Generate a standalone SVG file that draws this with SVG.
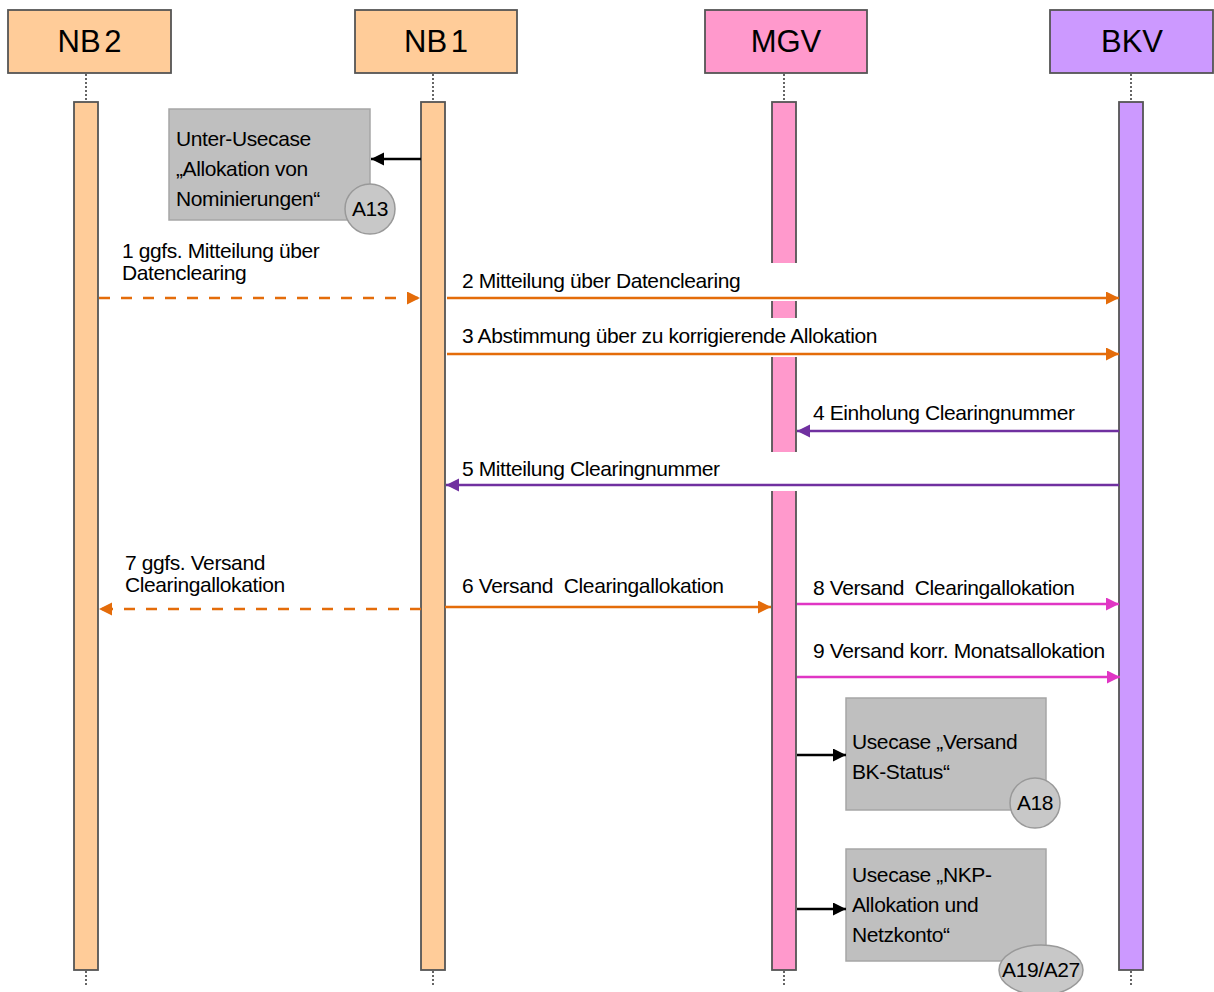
<svg xmlns="http://www.w3.org/2000/svg" width="1214" height="992" viewBox="0 0 1214 992">
<style>
text{font-family:"Liberation Sans",Arial,sans-serif;fill:#000}
.hdr{font-size:31px;text-anchor:middle}
.lbl{font-size:21px;letter-spacing:-0.4px}
.box{stroke:#555;stroke-width:1.8}
.dot{stroke:#000;stroke-width:1.2;stroke-dasharray:2,2;fill:none}
.nb{fill:#FFCC99}
.mg{fill:#FF99CC}
.bk{fill:#CC99FF}
.uc{fill:#BFBFBF;stroke:#A6A6A6;stroke-width:1.5}
.tag{fill:#C8C8C8;stroke:#999;stroke-width:1.5}
.or{stroke:#E46C0A;stroke-width:2.5;fill:none}
.pu{stroke:#7030A0;stroke-width:2.5;fill:none}
.pk{stroke:#E036C4;stroke-width:2.5;fill:none}
.bl{stroke:#000;stroke-width:2.5;fill:none}
.dash{stroke-dasharray:11,11}
</style>
<defs>
<marker id="aor" markerUnits="userSpaceOnUse" markerWidth="14" markerHeight="14" refX="13" refY="6.5" orient="auto"><path d="M0,0 L13,6.5 L0,13 z" fill="#E46C0A"/></marker>
<marker id="apu" markerUnits="userSpaceOnUse" markerWidth="14" markerHeight="14" refX="13" refY="6.5" orient="auto"><path d="M0,0 L13,6.5 L0,13 z" fill="#7030A0"/></marker>
<marker id="apk" markerUnits="userSpaceOnUse" markerWidth="14" markerHeight="14" refX="13" refY="6.5" orient="auto"><path d="M0,0 L13,6.5 L0,13 z" fill="#E036C4"/></marker>
<marker id="abl" markerUnits="userSpaceOnUse" markerWidth="14" markerHeight="14" refX="13" refY="6.5" orient="auto"><path d="M0,0 L13,6.5 L0,13 z" fill="#000"/></marker>
</defs>
<rect width="1214" height="992" fill="#fff"/>

<g id="nb2">
<rect class="box nb" x="8" y="10" width="163" height="63"/>
<text class="hdr" x="89.5" y="52" word-spacing="-5">NB 2</text>
<line class="dot" x1="86" y1="74" x2="86" y2="102"/>
<rect class="box nb" x="74" y="102" width="24" height="868"/>
<line class="dot" x1="86" y1="971" x2="86" y2="986"/>
</g>

<g id="nb1">
<rect class="box nb" x="355" y="10" width="162" height="63"/>
<text class="hdr" x="436" y="52" word-spacing="-5">NB 1</text>
<line class="dot" x1="433" y1="74" x2="433" y2="102"/>
<rect class="box nb" x="421" y="102" width="24" height="868"/>
<line class="dot" x1="433" y1="971" x2="433" y2="986"/>
</g>

<g id="mgv">
<rect class="box mg" x="705" y="10" width="162" height="63"/>
<text class="hdr" x="786" y="52">MGV</text>
<line class="dot" x1="784" y1="74" x2="784" y2="102"/>
<rect class="box mg" x="772" y="102" width="24" height="868"/>
<line class="dot" x1="784" y1="971" x2="784" y2="986"/>
<rect x="769" y="263" width="30" height="38" fill="#fff"/>
<rect x="769" y="318" width="30" height="39" fill="#fff"/>
<rect x="769" y="452" width="30" height="39" fill="#fff"/>
</g>

<g id="bkv">
<rect class="box bk" x="1050" y="10" width="163" height="63"/>
<text class="hdr" x="1132" y="52">BKV</text>
<line class="dot" x1="1131" y1="74" x2="1131" y2="102"/>
<rect class="box bk" x="1119" y="102" width="24" height="868"/>
<line class="dot" x1="1131" y1="971" x2="1131" y2="986"/>
</g>

<g id="a13">
<rect class="uc" x="169" y="109" width="201" height="111"/>
<text class="lbl" x="176" y="146">Unter-Usecase</text>
<text class="lbl" x="176" y="176">„Allokation von</text>
<text class="lbl" x="176" y="206">Nominierungen“</text>
<circle class="tag" cx="370" cy="209" r="25"/>
<text class="lbl" x="370" y="216" text-anchor="middle">A13</text>
</g>

<g id="a18">
<rect class="uc" x="846" y="698" width="200" height="112"/>
<text class="lbl" x="852" y="749">Usecase „Versand</text>
<text class="lbl" x="852" y="779">BK-Status“</text>
<circle class="tag" cx="1035" cy="803" r="25"/>
<text class="lbl" x="1035" y="810" text-anchor="middle">A18</text>
</g>

<g id="a19">
<rect class="uc" x="846" y="849" width="200" height="112"/>
<text class="lbl" x="852" y="882">Usecase „NKP-</text>
<text class="lbl" x="852" y="912">Allokation und</text>
<text class="lbl" x="852" y="942">Netzkonto“</text>
<ellipse class="tag" cx="1041" cy="970" rx="42" ry="25"/>
<text class="lbl" x="1041" y="977" text-anchor="middle">A19/A27</text>
</g>

<g id="connectors">
<line class="bl" x1="421" y1="159" x2="371" y2="159" marker-end="url(#abl)"/>
<line class="or dash" x1="99" y1="298" x2="420" y2="298" marker-end="url(#aor)"/>
<line class="or" x1="447" y1="298" x2="1119" y2="298" marker-end="url(#aor)"/>
<line class="or" x1="447" y1="354" x2="1119" y2="354" marker-end="url(#aor)"/>
<line class="pu" x1="1119" y1="431" x2="797" y2="431" marker-end="url(#apu)"/>
<line class="pu" x1="1119" y1="485" x2="446" y2="485" marker-end="url(#apu)"/>
<line class="or" x1="445" y1="607" x2="771" y2="607" marker-end="url(#aor)"/>
<line class="or dash" x1="421" y1="609" x2="99" y2="609" marker-end="url(#aor)"/>
<line class="pk" x1="797" y1="604" x2="1119" y2="604" marker-end="url(#apk)"/>
<line class="pk" x1="797" y1="677" x2="1120" y2="677" marker-end="url(#apk)"/>
<line class="bl" x1="797" y1="755" x2="846" y2="755" marker-end="url(#abl)"/>
<line class="bl" x1="797" y1="909" x2="846" y2="909" marker-end="url(#abl)"/>
<g class="lbl">
<text class="lbl" x="122" y="258">1 ggfs. Mitteilung über</text>
<text class="lbl" x="122" y="280">Datenclearing</text>
<text class="lbl" x="462" y="288">2 Mitteilung über Datenclearing</text>
<text class="lbl" x="462" y="343">3 Abstimmung über zu korrigierende Allokation</text>
<text class="lbl" x="813" y="420">4 Einholung Clearingnummer</text>
<text class="lbl" x="462" y="476">5 Mitteilung Clearingnummer</text>
<text class="lbl" x="462" y="593" xml:space="preserve">6 Versand  Clearingallokation</text>
<text class="lbl" x="125" y="570">7 ggfs. Versand</text>
<text class="lbl" x="125" y="592">Clearingallokation</text>
<text class="lbl" x="813" y="595" xml:space="preserve">8 Versand  Clearingallokation</text>
<text class="lbl" x="813" y="658">9 Versand korr. Monatsallokation</text>
</g>
</g>
</svg>
